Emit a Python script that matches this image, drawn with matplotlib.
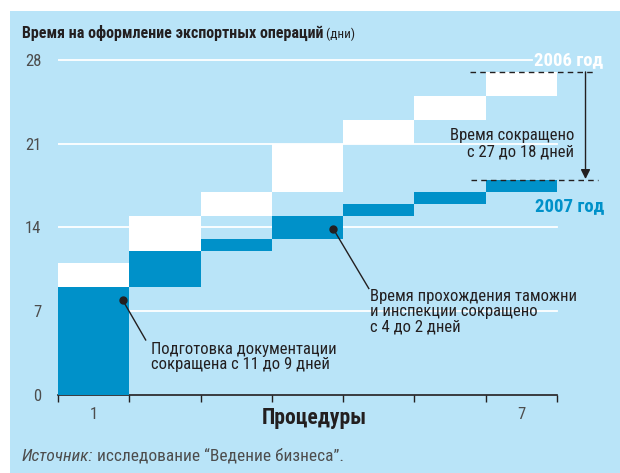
import matplotlib
matplotlib.use('Agg')
import matplotlib.pyplot as plt
from matplotlib import font_manager

# pick a narrow-ish font if one is installed
installed = {f.name for f in font_manager.fontManager.ttflist}
FONT = 'Roboto'
for name in ['Roboto Condensed', 'Liberation Sans Narrow', 'Roboto']:
    if name in installed:
        FONT = name
        break
plt.rcParams['font.family'] = [FONT, 'DejaVu Sans']

# data: cumulative days after each procedure
procedures = [1, 2, 3, 4, 5, 6, 7]
days_2006 = [11, 15, 17, 21, 23, 25, 27]
days_2007 = [9, 12, 13, 15, 16, 17, 18]
y_ticks = [0, 7, 14, 21, 28]
x_labels = {1: '1', 7: '7'}

BG = '#b9e4f8'
BLUE = '#0091c9'
DARK = '#231f20'
GREY = '#4d4d4d'

fig = plt.figure(figsize=(6.2, 4.73), dpi=100)
fig.patch.set_facecolor('white')
# light blue panel
fig.add_artist(plt.Rectangle((10 / 620, 0), 610 / 620, 462 / 473,
                             transform=fig.transFigure, facecolor=BG,
                             edgecolor='none', zorder=0))

# axes: x from pixel 58 (0.5) ; y=0 at pixel 395, y=28 at pixel 60
px_per_unit = (557 - 58) / 7
x_right = 0.5 + (610 - 58) / px_per_unit
ax = fig.add_axes([58 / 620, 78 / 473, (610 - 58) / 620, (395 - 48) / 473])
ax.set_facecolor('none')
ax.set_xlim(0.5, x_right)
ax.set_ylim(0, 29)

# gridlines
for y in y_ticks[1:]:
    right = 7.15 if y == 28 else 7.5
    ax.plot([0.5, right], [y, y], color='white', lw=1.3, zorder=1)

prev06, prev07 = 0, 0
for p, d06, d07 in zip(procedures, days_2006, days_2007):
    ax.bar(p, d06 - prev06, bottom=prev06, width=1.0, color='white', zorder=2)
    ax.bar(p, d07 - prev07, bottom=prev07, width=1.0, color=BLUE, zorder=3)
    prev06, prev07 = d06, d07

# axes styling
for s in ['top', 'right', 'left']:
    ax.spines[s].set_visible(False)
ax.spines['bottom'].set_bounds(0.5, 7.5)
ax.spines['bottom'].set_color(DARK)
ax.spines['bottom'].set_linewidth(1.2)
ax.set_xticks([i + 0.5 for i in range(8)])
ax.set_xticklabels([])
ax.tick_params(axis='x', direction='out', length=5, color=DARK, width=1)
for p, lab in x_labels.items():
    ax.text(p, -1.0, lab, ha='center', va='top', fontsize=12, color=GREY)
ax.set_yticks(y_ticks)
ax.set_yticklabels([str(v) for v in y_ticks], fontsize=12, color=GREY)
ax.tick_params(axis='y', length=0, pad=12)

# 2006 / 2007 markers
total06, total07 = days_2006[-1], days_2007[-1]
ax.plot([6.5 - 0.22, 8.05], [total06, total06], ls=(0, (4, 3)), color=DARK,
        lw=1, zorder=4, clip_on=False)
ax.plot([6.5 - 0.2, 8.07], [total07, total07], ls=(0, (4, 3)), color=DARK,
        lw=1, zorder=4, clip_on=False)
ax.annotate('', xy=(7.9, total07 + 0.05), xytext=(7.9, total06),
            arrowprops=dict(arrowstyle='-|>', color=DARK, lw=1,
                            mutation_scale=14, shrinkA=0, shrinkB=0))
ax.text(8.15, 28, '2006 год', color='white', fontsize=13.5, fontweight='bold',
        ha='right', va='center')
ax.text(8.16, 15.8, '2007 год', color=BLUE, fontsize=13.5, fontweight='bold',
        ha='right', va='center')
ax.text(7.74, 21, 'Время сокращено\nс 27 до 18 дней', color=DARK, fontsize=12,
        ha='right', va='center', linespacing=1.05)

# callouts
ax.plot([1.41, 1.73], [7.9, 4.6], color=DARK, lw=1, zorder=5)
ax.plot([1.41], [7.9], 'o', color=DARK, ms=5, zorder=5)
ax.text(1.8, 4.45, 'Подготовка документации\nсокращена с 11 до 9 дней',
        color=DARK, fontsize=12, ha='left', va='top', linespacing=1.0)
ax.plot([4.36, 4.86], [13.9, 8.9], color=DARK, lw=1, zorder=5)
ax.plot([4.36], [13.9], 'o', color=DARK, ms=5, zorder=5)
ax.text(4.87, 8.85, 'Время прохождения таможни\nи инспекции сокращено\nс 4 до 2 дней',
        color=DARK, fontsize=12, ha='left', va='top', linespacing=1.0)

# titles
title = fig.text(22 / 620, 1 - 38 / 473, 'Время на оформление экспортных операций',
                 fontsize=11.5, fontweight='bold', color=DARK, va='baseline')
fig.canvas.draw()
ax.annotate(' (дни)', xy=(1, 0), xycoords=title, fontsize=9.5, color=DARK,
            va='bottom', ha='left', annotation_clip=False)
fig.text(314 / 620, 1 - 418 / 473, 'Процедуры', fontsize=15.5, fontweight='bold',
         color=DARK, ha='center', va='center')
src = fig.text(22 / 620, 1 - 456 / 473, 'Источник:', fontsize=12.5, style='italic',
               color=GREY, va='center')
ax.annotate(' исследование “Ведение бизнеса”.', xy=(1, 0.5), xycoords=src,
            fontsize=12.5, color=GREY, va='center', ha='left',
            annotation_clip=False)

fig.savefig('out.png', dpi=100, facecolor=fig.get_facecolor())
